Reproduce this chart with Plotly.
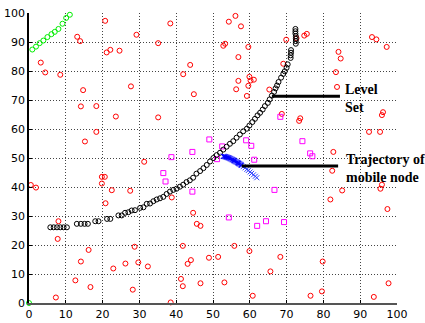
import plotly.graph_objects as go

# ---- data ----
red_x = [3.2, 4.4, 8.5, 13.1, 13.9, 14.7, 14.1, 18.3, 20.7, 21.1, 22.1, 24.6, 27.7, 29.2,
         38.4, 35.1, 43.8, 41.9, 44.8, 56.1, 61.8, 54.3, 57.6, 52.8, 53.3, 59.6, 56.9, 56.9,
         56.3, 59.9, 60.2, 61.1, 59.6, 59.2, 65.3, 69.9, 69.1,
         72.7, 74.8, 75.5, 84.1, 84.7, 83.4, 83.7, 93.2, 94.4, 97.2,
         23.6, 18.3, 15.2, 31.3, 0.5, 1.9, 19.8, 20.6, 19.8, 22.5, 27.5, 20.8,
         35.1, 68.7, 38.8,
         73.7, 73.4, 96.2, 95.9, 92.4, 95.4, 82.7, 82.4, 85.1, 95.9, 95.5, 81.9, 97.4,
         8.0, 7.8, 16.2, 14.1, 12.6, 16.7, 7.3, 22.9, 26.2, 28.7, 29.7, 28.2, 32.3,
         44.6, 45.6, 46.6, 41.8, 43.1, 44.0, 41.3, 41.8, 46.6, 38.5, 48.9, 51.4, 55.8,
         53.1, 59.9, 60.8, 65.6, 68.3,
         79.8, 79.6, 76.5, 93.7, 97.7]
red_y = [82.9, 79.5, 78.7, 91.8, 90.3, 73.4, 67.8, 67.9, 97.3, 86.4, 87.3, 87.0, 74.7, 92.5,
         96.4, 89.6, 82.1, 78.9, 72.0, 99.0, 100.3, 97.0, 95.4, 88.7, 89.4, 88.3, 84.8, 76.6,
         73.7, 78.0, 76.7, 77.0, 74.9, 71.4, 73.6, 90.8, 82.5,
         91.3, 92.2, 92.8, 86.6, 84.3, 79.6, 74.5, 91.7, 90.9, 88.3,
         64.3, 59.0, 55.7, 48.7, 40.7, 39.8, 43.5, 43.5, 41.2, 38.9, 38.7, 34.4,
         64.0, 65.2, 36.4,
         63.7, 62.8, 65.8, 64.8, 59.0, 59.0, 52.1, 45.6, 38.8, 40.8, 39.4, 35.7, 32.4,
         28.2, 22.1, 18.3, 14.3, 7.8, 5.5, 1.9, 11.9, 13.6, 19.4, 14.0, 4.6, 12.6,
         31.1, 27.3, 26.6, 19.7, 13.5, 14.8, 8.3, 5.8, 6.8, 0.2, 15.6, 15.9, 19.7,
         7.1, 17.9, 2.5, 10.9, 15.9,
         14.3, 4.0, 2.5, 2.1, 6.8]

mag_x = [49.0, 44.4, 38.7, 52.5, 51.1, 59.0, 60.4, 61.2, 36.5, 37.1, 44.4, 66.7, 68.3,
         74.3, 76.4, 77.0, 54.3, 62.0, 64.4, 69.3]
mag_y = [56.4, 52.1, 50.3, 54.0, 49.6, 56.1, 54.2, 49.4, 44.8, 41.9, 38.4, 39.0, 64.2,
         55.8, 51.6, 50.6, 29.5, 26.6, 28.2, 27.9]

green_x = [0.0, 0.9, 1.9, 2.9, 3.9, 5.0, 6.1, 7.0, 8.0, 9.1, 10.1, 11.1]
green_y = [0.0, 87.4, 88.4, 89.6, 90.5, 91.7, 92.7, 93.5, 94.5, 96.3, 98.3, 99.4]

level_x = [5.8, 6.7, 7.6, 8.5, 9.4, 10.3, 13.0, 14.1, 15.1, 16.0, 18.0, 18.9, 21.2, 22.1,
           24.3, 25.2, 26.1, 27.0, 27.9, 28.8, 30.2, 31.1, 32.0, 32.9, 33.8, 34.7, 35.6,
           36.5, 37.4, 38.3, 39.2, 40.1, 41.0, 41.9, 42.8, 43.7, 44.6, 45.5, 46.5, 47.4,
           48.3, 49.2, 50.1, 51.0, 51.9, 52.8, 53.7, 54.6, 55.5, 56.4, 57.3, 58.2, 59.2,
           59.9, 60.7, 61.4, 62.1, 62.8, 63.5, 64.1, 64.9, 65.4, 66.0, 66.6, 67.0, 67.4,
           67.8, 68.5, 69.1, 69.5, 70.0, 70.3, 71.1, 71.1, 71.2, 71.2, 72.5, 72.5, 72.5,
           72.5, 72.4, 72.4, 72.4]
level_y = [26.1, 26.1, 26.1, 26.1, 26.1, 26.1, 27.3, 27.3, 27.3, 27.3, 28.2, 28.2, 29.0, 29.0,
           30.2, 30.2, 31.1, 31.3, 31.9, 32.0, 32.8, 33.0, 34.2, 34.3, 35.1, 35.7, 36.1,
           36.6, 37.6, 38.4, 39.0, 39.4, 40.1, 40.8, 41.7, 42.3, 43.2, 44.6, 45.5, 46.5,
           47.6, 48.8, 50.0, 51.0, 51.8, 52.9, 53.9, 54.9, 55.8, 57.0, 58.1, 59.2, 60.1,
           61.2, 62.4, 63.5, 64.7, 65.6, 66.7, 67.9, 69.0, 70.2, 71.5, 72.8, 74.0, 75.0,
           76.2, 77.7, 79.0, 79.9, 81.1, 82.3, 84.5, 85.4, 86.3, 87.2, 89.4, 90.3, 91.1,
           92.0, 92.9, 93.7, 94.5]

traj_dense_x = [52.8, 53.0, 53.2, 53.4, 53.6, 53.8, 54.0, 54.2, 54.4, 54.6, 54.8, 55.0, 55.2,
                55.4, 55.6, 55.8, 56.0, 56.2, 56.4, 56.6, 56.8, 57.0, 57.2, 57.4, 57.6, 57.8]
traj_dense_y = [50.6, 50.55, 50.5, 50.45, 50.35, 50.25, 50.15, 50.1, 50.0, 49.85, 49.75, 49.6,
                49.45, 49.35, 49.2, 49.05, 48.9, 48.75, 48.6, 48.45, 48.3, 48.15, 48.0, 47.8,
                47.6, 47.4]
traj_sparse_x = [58.2, 58.7, 59.2, 59.6, 60.1, 60.5, 61.0, 61.5, 61.9]
traj_sparse_y = [47.0, 46.6, 46.1, 45.7, 45.2, 44.7, 44.2, 43.7, 43.2]

levelset_pointer_x = [66.0, 84.5]
levelset_pointer_y = [71.3, 71.3]
traj_pointer_x = [57.8, 84.0]
traj_pointer_y = [47.2, 47.2]

tick_vals = [0, 10, 20, 30, 40, 50, 60, 70, 80, 90, 100]
tick_text = [str(v) for v in tick_vals]

label_level = "<b>Level<br>Set</b>"
label_traj = "<b>Trajectory of<br>mobile node</b>"

# ---- figure ----
fig = go.Figure()

fig.add_trace(go.Scatter(x=red_x, y=red_y, mode="markers", cliponaxis=False,
                         marker=dict(symbol="circle-open", size=5, color="#ff0000",
                                     line=dict(width=1, color="#ff0000"))))
fig.add_trace(go.Scatter(x=mag_x, y=mag_y, mode="markers", cliponaxis=False,
                         marker=dict(symbol="square-open", size=5, color="#ff00ff",
                                     line=dict(width=1, color="#ff00ff"))))
fig.add_trace(go.Scatter(x=green_x, y=green_y, mode="markers", cliponaxis=False,
                         marker=dict(symbol="circle-open", size=5, color="#00ee00",
                                     line=dict(width=1, color="#00ee00"))))
fig.add_trace(go.Scatter(x=level_x, y=level_y, mode="markers", cliponaxis=False,
                         marker=dict(symbol="circle-open", size=5, color="#000000",
                                     line=dict(width=1, color="#000000"))))
fig.add_trace(go.Scatter(x=traj_dense_x, y=traj_dense_y, mode="lines+markers",
                         line=dict(color="#0000ff", width=2.5),
                         marker=dict(symbol="x-thin-open", size=5, color="#0000ff",
                                     line=dict(width=1, color="#0000ff"))))
fig.add_trace(go.Scatter(x=traj_sparse_x, y=traj_sparse_y, mode="markers",
                         marker=dict(symbol="x-thin-open", size=5, color="#3344ff",
                                     line=dict(width=1, color="#3344ff"))))
fig.add_trace(go.Scatter(x=levelset_pointer_x, y=levelset_pointer_y, mode="lines",
                         line=dict(color="#000000", width=3)))
fig.add_trace(go.Scatter(x=traj_pointer_x, y=traj_pointer_y, mode="lines",
                         line=dict(color="#000000", width=3)))

fig.add_annotation(x=85.2, y=70.6, xref="x", yref="y", text=label_level, showarrow=False,
                   xanchor="left", yanchor="middle", align="left",
                   font=dict(family="Liberation Serif", size=14, color="#000000"))
fig.add_annotation(x=85.6, y=46.5, xref="x", yref="y", text=label_traj, showarrow=False,
                   xanchor="left", yanchor="middle", align="left",
                   font=dict(family="Liberation Serif", size=14, color="#000000"))

axis_common = dict(
    range=[0, 100], tickmode="array", tickvals=tick_vals, ticktext=tick_text,
    showgrid=True, gridcolor="#444444", gridwidth=1, griddash="1px,2px",
    zeroline=False, ticks="inside", ticklen=3, tickcolor="#000000",
    tickfont=dict(family="DejaVu Sans", size=11, color="#000000"),
    mirror=False, fixedrange=True, automargin=False,
)
fig.update_xaxes(**axis_common, showline=True, linecolor="#555555", linewidth=2)
fig.update_yaxes(**axis_common, showline=True, linecolor="#000000", linewidth=1.5)

fig.update_layout(
    width=425, height=323,
    margin=dict(l=29, r=28, t=13, b=20, pad=0),
    paper_bgcolor="#ffffff", plot_bgcolor="#ffffff",
    showlegend=False,
)

fig.write_html("out.html")
